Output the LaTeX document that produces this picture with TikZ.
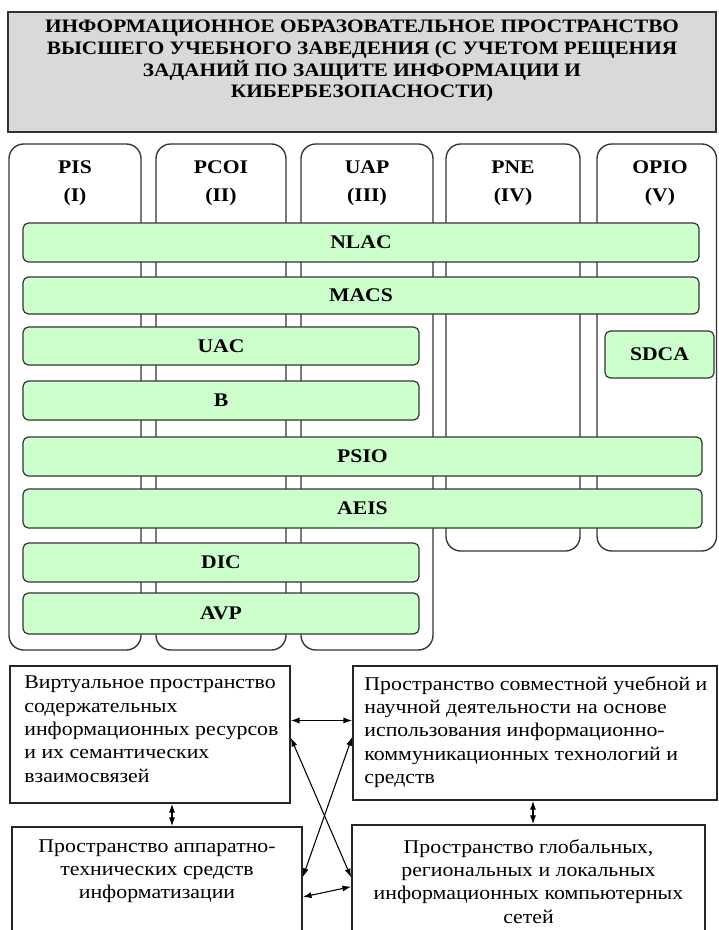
\documentclass[tikz,border=0pt]{standalone}
\usepackage{fontspec}
\setmainfont{Liberation Serif}[FakeStretch=1.12]
\usetikzlibrary{arrows.meta}
\definecolor{headgray}{HTML}{D9D9D9}
\definecolor{barfill}{HTML}{CCFFCC}
\definecolor{edge}{HTML}{333333}

\newcommand{\greenbar}[6]{%
  \node [bar, minimum width={(#4-#2)*0.75pt}, minimum height={(#5-#3)*0.75pt}] (#1) at ({(#2+#4)/2}, {(#3+#5)/2}) {#6};}

\begin{document}
\begin{tikzpicture}[x=0.75pt, y=-0.75pt,
    col/.style={draw=edge, line width=1pt, rounded corners=11pt},
    collabel/.style={font=\bfseries\fontsize{14.5}{21}\selectfont, align=center},
    bar/.style={draw=edge, fill=barfill, line width=0.9pt, rounded corners=4pt, inner sep=0pt,
      font=\bfseries\fontsize{14.5}{17}\selectfont},
    space/.style={draw=black!85, line width=1.3pt, inner sep=0pt},
    spacetext/.style={font=\fontsize{14.6}{17.5}\selectfont, inner sep=0pt},
    biarrow/.style={{Latex[length=6.5pt,width=4.5pt]}-{Latex[length=6.5pt,width=4.5pt]}, line width=0.8pt}]
  \clip (0,0) rectangle (718,930);

  \node [draw=edge, line width=1.5pt, fill=headgray, minimum width=531pt, minimum height=90pt] (head) at (362,72) {};
  \node [font=\bfseries\fontsize{14.25}{16.3}\selectfont, align=center] (headtext) at (362,61)
    {ИНФОРМАЦИОННОЕ ОБРАЗОВАТЕЛЬНОЕ ПРОСТРАНСТВО\\ВЫСШЕГО УЧЕБНОГО ЗАВЕДЕНИЯ (С УЧЕТОМ РЕЩЕНИЯ\\ЗАДАНИЙ ПО ЗАЩИТЕ ИНФОРМАЦИИ И\\КИБЕРБЕЗОПАСНОСТИ)};

  \draw [col] (9,144) rectangle (141,650);
  \draw [col] (156,144) rectangle (286,650);
  \draw [col] (301,144) rectangle (433,650);
  \draw [col] (446,144) rectangle (580,551);
  \draw [col] (597,144) rectangle (716.5,551);
  \node [collabel] (pis) at (75,183) {PIS\\(I)};
  \node [collabel] (pcoi) at (221,183) {PCOI\\(II)};
  \node [collabel] (uap) at (367,183) {UAP\\(III)};
  \node [collabel] (pne) at (513,183) {PNE\\(IV)};
  \node [collabel] (opio) at (660,183) {OPIO\\(V)};

  \greenbar{nlac}{23}{223}{699}{262}{NLAC}
  \greenbar{macs}{23}{277}{699}{314}{MACS}
  \greenbar{uac}{23}{327}{419}{365}{UAC}
  \greenbar{sdca}{605}{331}{714}{378}{SDCA}
  \greenbar{b}{23}{381}{419}{420}{B}
  \greenbar{psio}{23}{437}{702}{476}{PSIO}
  \greenbar{aeis}{23}{489}{702}{528}{AEIS}
  \greenbar{dic}{23}{543}{419}{582}{DIC}
  \greenbar{avp}{23}{593}{419}{634}{AVP}

  \node [space, minimum width=210pt, minimum height=102.75pt] (virt) at (150,734.5) {};
  \node [spacetext, align=left, anchor=north west] (virttext) at ([xshift=11.25pt, yshift=-8pt]virt.north west)
    {Виртуальное пространство\\содержательных\\информационных ресурсов\\и их семантических\\взаимосвязей};
  \node [space, minimum width=273pt, minimum height=100.5pt] (joint) at (535,733) {};
  \node [spacetext, align=left, anchor=north west] (jointtext) at ([xshift=9pt, yshift=-8pt]joint.north west)
    {Пространство совместной учебной и\\научной деятельности на основе\\использования информационно-\\коммуникационных технологий и\\средств};
  \node [space, minimum width=217.5pt, minimum height=81pt] (hard) at (157,881) {};
  \node [spacetext, align=center, anchor=north] (hardtext) at (157,839)
    {Пространство аппаратно-\\технических средств\\информатизации};
  \node [space, minimum width=264.75pt, minimum height=82.5pt] (glob) at (528.5,880) {};
  \node [spacetext, align=center, anchor=north] (globtext) at (528.5,839)
    {Пространство глобальных,\\региональных и локальных\\информационных компьютерных\\сетей};

  \draw [biarrow] ([yshift=10.5pt]virt.east) -- ([yshift=10.5pt]virt.east -| joint.west);
  \draw [biarrow] ([yshift=-2.5pt]virt.east) -- ([yshift=2pt]glob.west);
  \draw [biarrow] ([yshift=-3pt]joint.west) -- ([yshift=3pt]hard.east);
  \draw [biarrow] ([yshift=-12pt]hard.east) -- ([yshift=-5pt]glob.west);
  \draw [biarrow] ([xshift=16.5pt]virt.south) -- ([xshift=16.5pt]virt.south |- hard.north);
  \draw [biarrow] ([xshift=-1.5pt]joint.south) -- ([xshift=-1.5pt]joint.south |- glob.north);
\end{tikzpicture}
\end{document}
